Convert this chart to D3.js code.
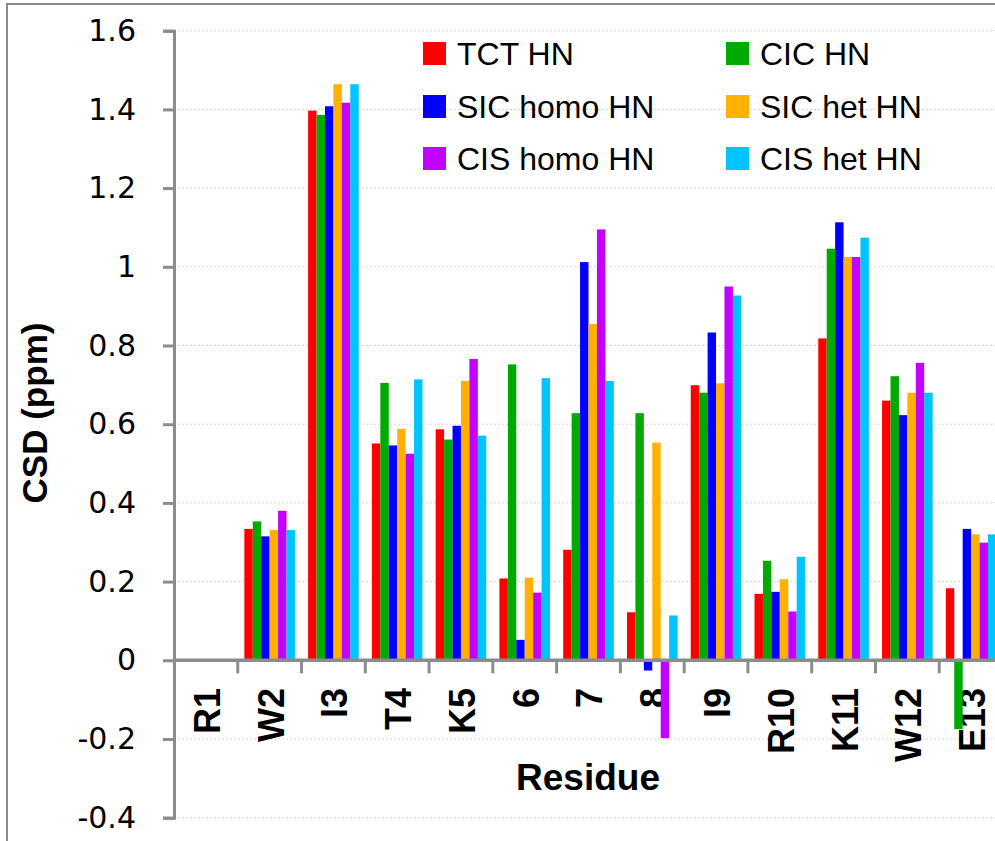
<!DOCTYPE html>
<html>
<head>
<meta charset="utf-8">
<script src="https://cdn.jsdelivr.net/npm/d3@7"></script>
<style>
  html, body { margin: 0; padding: 0; background: #fff; }
  svg { display: block; }
</style>
</head>
<body>
<svg id="chart" width="995" height="841"></svg>
<script>
// Residues along the peptide
const categories = ["R1", "W2", "I3", "T4", "K5", "6", "7", "8", "I9", "R10", "K11", "W12", "E13"];

// Series names and colours
const seriesNames = ["TCT HN", "CIC HN", "SIC homo HN", "SIC het HN", "CIS homo HN", "CIS het HN"];
const seriesColors = ["#ff0000", "#00aa00", "#0000ff", "#ffb000", "#c400ff", "#00c4ff"];

// Chemical shift deviations (ppm) per series, one value per residue
const tctHN     = [null, 0.334, 1.397, 0.551, 0.587, 0.208, 0.281, 0.122, 0.699, 0.169, 0.818, 0.660, 0.183];
const cicHN     = [null, 0.353, 1.386, 0.705, 0.561, 0.752, 0.628, 0.628, 0.680, 0.253, 1.046, 0.722, -0.175];
const sicHomoHN = [null, 0.315, 1.408, 0.546, 0.596, 0.052, 1.012, -0.026, 0.833, 0.174, 1.113, 0.623, 0.334];
const sicHetHN  = [null, 0.331, 1.464, 0.588, 0.710, 0.210, 0.855, 0.553, 0.704, 0.206, 1.025, 0.680, 0.320];
const cisHomoHN = [null, 0.380, 1.417, 0.525, 0.766, 0.172, 1.095, -0.198, 0.950, 0.124, 1.025, 0.756, 0.299];
const cisHetHN  = [null, 0.331, 1.464, 0.714, 0.571, 0.717, 0.710, 0.114, 0.927, 0.263, 1.074, 0.680, 0.320];

const yTicks = [-0.4, -0.2, 0, 0.2, 0.4, 0.6, 0.8, 1, 1.2, 1.4, 1.6];
const yTitle = "CSD (ppm)";
const xTitle = "Residue";

const seriesValues = [tctHN, cicHN, sicHomoHN, sicHetHN, cisHomoHN, cisHetHN];

const svg = d3.select("#chart");
const axisColor = "#8c8c8c";

// Outer chart frame
svg.append("rect")
  .attr("x", 7).attr("y", 4)
  .attr("width", 1100).attr("height", 1000)
  .attr("fill", "#fff")
  .attr("stroke", "#8a8a8a")
  .attr("stroke-width", 2);

const plotLeft = 174, plotRight = 1003;
const y = d3.scaleLinear().domain([-0.4, 1.6]).range([817.7, 30.7]);
const x0 = d3.scaleBand().domain(categories).range([plotLeft, plotRight]).paddingInner(0).paddingOuter(0);
const x1 = d3.scaleBand().domain(seriesNames).range([0, x0.bandwidth()]).paddingInner(0).paddingOuter(0.78);

// Horizontal gridlines
svg.append("g")
  .selectAll("line")
  .data(yTicks)
  .join("line")
  .attr("x1", plotLeft).attr("x2", plotRight)
  .attr("y1", d => y(d)).attr("y2", d => y(d))
  .attr("stroke", "#d4d4d4")
  .attr("stroke-width", 1)
  .attr("stroke-dasharray", "2,2");

// Y axis
const yAxis = svg.append("g")
  .attr("transform", `translate(${plotLeft},0)`)
  .call(d3.axisLeft(y).tickValues(yTicks).tickSize(11).tickSizeOuter(11).tickPadding(27)
    .tickFormat(d => d3.format("")(+d.toFixed(1))));
yAxis.select(".domain").attr("stroke", axisColor).attr("stroke-width", 3);
yAxis.selectAll(".tick line").attr("stroke", axisColor).attr("stroke-width", 3);
yAxis.selectAll(".tick text")
  .attr("font-family", "DejaVu Sans, Verdana, sans-serif")
  .attr("font-size", 30)
  .attr("fill", "#000");
yAxis.selectAll(".tick text").text(d => d < 0 ? "-" + Math.abs(d) : String(d));

// Category labels below the zero line
const labelG = svg.append("g");
labelG.selectAll("text")
  .data(categories)
  .join("text")
  .attr("transform", d => `translate(${x0(d) + x0.bandwidth() / 2 + 1},688) rotate(-90)`)
  .attr("text-anchor", "end")
  .attr("dy", "0.36em")
  .attr("font-family", "Liberation Sans, Arial, sans-serif")
  .attr("font-weight", "bold")
  .attr("font-size", 36)
  .attr("fill", "#000")
  .text(d => d);

// Bars
const groups = svg.append("g")
  .selectAll("g")
  .data(categories)
  .join("g")
  .attr("transform", d => `translate(${x0(d)},0)`);

groups.selectAll("rect")
  .data((d, i) => seriesNames.map((s, k) => ({ s, k, v: seriesValues[k][i] })).filter(e => e.v !== null))
  .join("rect")
  .attr("x", e => x1(e.s))
  .attr("width", x1.bandwidth())
  .attr("y", e => y(Math.max(0, e.v)))
  .attr("height", e => Math.abs(y(e.v) - y(0)))
  .attr("fill", e => seriesColors[e.k]);

// X axis line at zero with category separators
svg.append("line")
  .attr("x1", plotLeft).attr("x2", plotRight)
  .attr("y1", y(0)).attr("y2", y(0))
  .attr("stroke", axisColor).attr("stroke-width", 3.5);

svg.append("g")
  .selectAll("line")
  .data(categories.slice(1))
  .join("line")
  .attr("x1", d => x0(d)).attr("x2", d => x0(d))
  .attr("y1", y(0)).attr("y2", y(0) + 13)
  .attr("stroke", axisColor).attr("stroke-width", 3);

// Axis titles
svg.append("text")
  .attr("transform", "translate(47,413) rotate(-90)")
  .attr("text-anchor", "middle")
  .attr("font-family", "Liberation Sans, Arial, sans-serif")
  .attr("font-weight", "bold")
  .attr("font-size", 35)
  .attr("fill", "#000")
  .text(yTitle);

svg.append("text")
  .attr("x", 588).attr("y", 790)
  .attr("text-anchor", "middle")
  .attr("font-family", "Liberation Sans, Arial, sans-serif")
  .attr("font-weight", "bold")
  .attr("font-size", 37)
  .attr("fill", "#000")
  .text(xTitle);

// Legend: two columns, three rows
const legend = svg.append("g");
const legendCols = [423, 726];
const legendRows = [42, 95, 147];
seriesNames.forEach((name, k) => {
  const lx = legendCols[k % 2], ly = legendRows[Math.floor(k / 2)];
  legend.append("rect")
    .attr("x", lx).attr("y", ly)
    .attr("width", 23).attr("height", 23)
    .attr("fill", seriesColors[k]);
  legend.append("text")
    .attr("x", lx + 34).attr("y", ly + 23)
    .attr("font-family", "Liberation Sans, Arial, sans-serif")
    .attr("font-size", 32)
    .attr("fill", "#000")
    .text(name);
});
</script>
</body>
</html>
